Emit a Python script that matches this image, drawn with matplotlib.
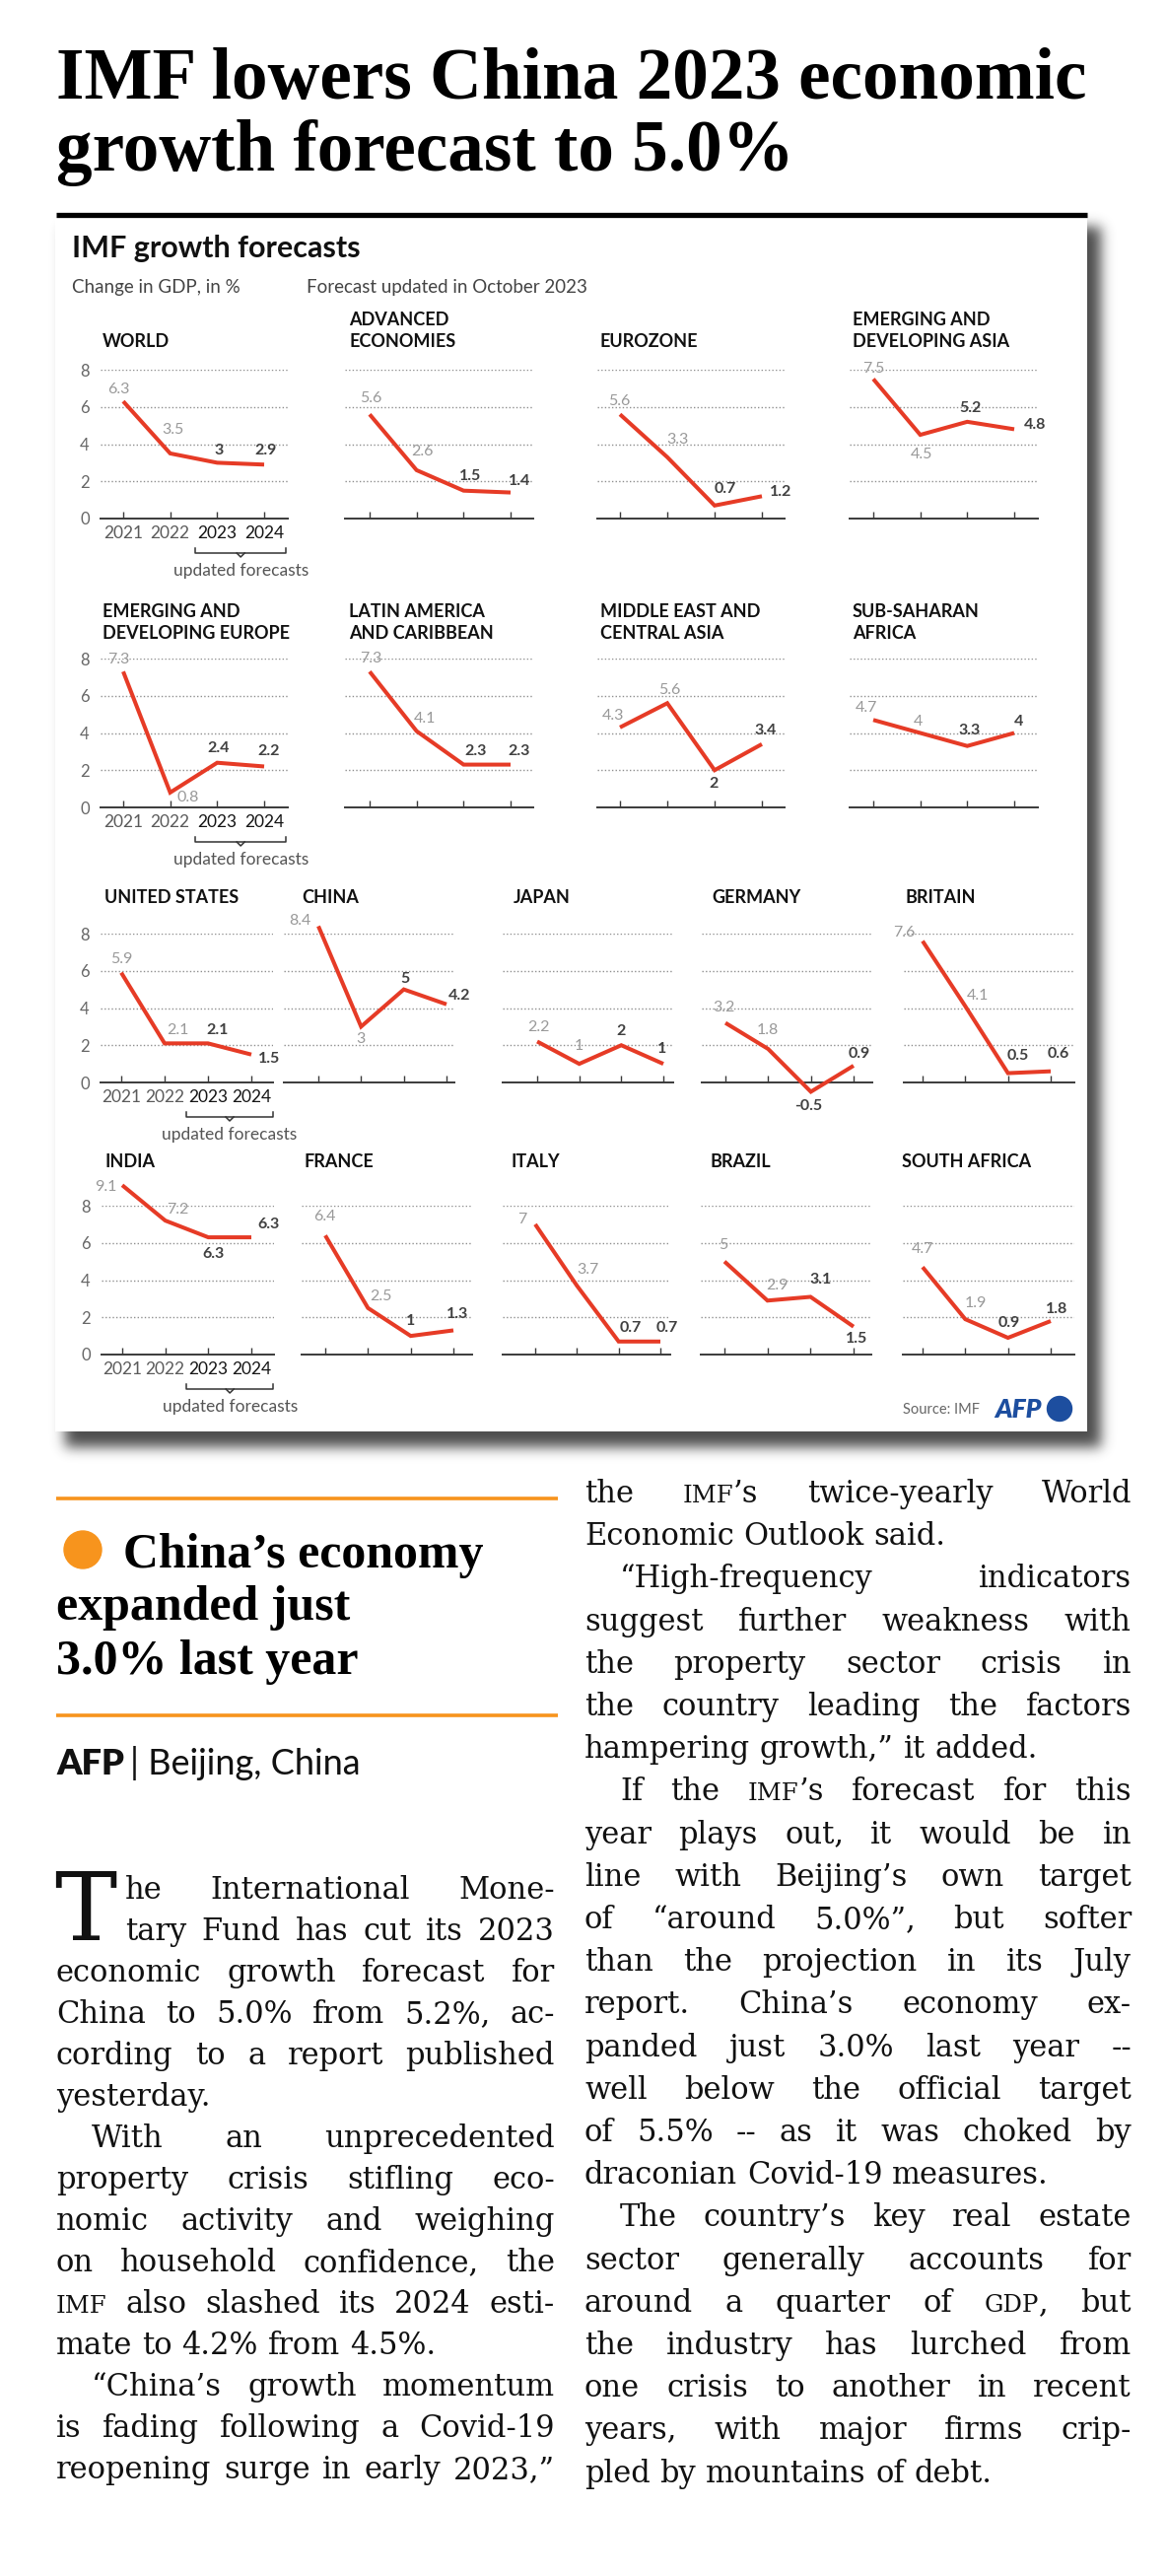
import re
import numpy as np
import matplotlib
matplotlib.use("Agg")
import matplotlib.pyplot as plt
from matplotlib.patches import Rectangle, Circle

plt.rcParams["font.family"] = ["Lato", "DejaVu Sans"]

# IMF GDP growth in %, for 2021, 2022, 2023 (forecast), 2024 (forecast)
years = ["2021", "2022", "2023", "2024"]
titles = ["WORLD", "ADVANCED\nECONOMIES", "EUROZONE", "EMERGING AND\nDEVELOPING ASIA",
          "EMERGING AND\nDEVELOPING EUROPE", "LATIN AMERICA\nAND CARIBBEAN",
          "MIDDLE EAST AND\nCENTRAL ASIA", "SUB-SAHARAN\nAFRICA",
          "UNITED STATES", "CHINA", "JAPAN", "GERMANY", "BRITAIN",
          "INDIA", "FRANCE", "ITALY", "BRAZIL", "SOUTH AFRICA"]
world = [6.3, 3.5, 3.0, 2.9]
advanced = [5.6, 2.6, 1.5, 1.4]
eurozone = [5.6, 3.3, 0.7, 1.2]
em_asia = [7.5, 4.5, 5.2, 4.8]
em_europe = [7.3, 0.8, 2.4, 2.2]
latam = [7.3, 4.1, 2.3, 2.3]
mideast = [4.3, 5.6, 2.0, 3.4]
subsahara = [4.7, 4.0, 3.3, 4.0]
usa = [5.9, 2.1, 2.1, 1.5]
china = [8.4, 3.0, 5.0, 4.2]
japan = [2.2, 1.0, 2.0, 1.0]
germany = [3.2, 1.8, -0.5, 0.9]
britain = [7.6, 4.1, 0.5, 0.6]
india = [9.1, 7.2, 6.3, 6.3]
france = [6.4, 2.5, 1.0, 1.3]
italy = [7.0, 3.7, 0.7, 0.7]
brazil = [5.0, 2.9, 3.1, 1.5]
south_africa = [4.7, 1.9, 0.9, 1.8]
series = [world, advanced, eurozone, em_asia, em_europe, latam, mideast, subsahara,
          usa, china, japan, germany, britain, india, france, italy, brazil, south_africa]
yticks = [0, 2, 4, 6, 8]

# article text
headline = ["IMF lowers China 2023 economic", "growth forecast to 5.0%"]
side_head = ["China’s economy", "expanded just", "3.0% last year"]
left_paras = [
    ["he International Mone-", "tary Fund has cut its 2023", "economic growth forecast for",
     "China to 5.0% from 5.2%, ac-", "cording to a report published", "yesterday."],
    ["With an unprecedented", "property crisis stifling eco-", "nomic activity and weighing",
     "on household confidence, the", "{IMF} also slashed its 2024 esti-", "mate to 4.2% from 4.5%."],
    ["“China’s growth momentum", "is fading following a Covid-19", "reopening surge in early 2023,”"],
]
right_paras = [
    ["the {IMF}’s twice-yearly World", "Economic Outlook said."],
    ["“High-frequency indicators", "suggest further weakness with", "the property sector crisis in",
     "the country leading the factors", "hampering growth,” it added."],
    ["If the {IMF}’s forecast for this", "year plays out, it would be in", "line with Beijing’s own target",
     "of “around 5.0%”, but softer", "than the projection in its July", "report. China’s economy ex-",
     "panded just 3.0% last year --", "well below the official target", "of 5.5% -- as it was choked by",
     "draconian Covid-19 measures."],
    ["The country’s key real estate", "sector generally accounts for", "around a quarter of {GDP}, but",
     "the industry has lurched from", "one crisis to another in recent", "years, with major firms crip-",
     "pled by mountains of debt."],
]

# layout, all in pixels of the 1184 x 2613 page
W, H = 1184, 2613
RED = "#e63b26"
ORANGE = "#f7941d"
BLUE = "#1d4e9f"
SERIF = ["Liberation Serif", "DejaVu Serif"]
BODY = ["DejaVu Serif"]

# axis start, axis end, first tick, last tick
geom = [(102, 292, 125, 268), (350, 541, 375, 518), (606, 796, 629, 773), (862, 1053, 886, 1029)] * 2 + \
       [(102, 277, 123, 255), (288, 461, 323, 453), (510, 683, 545, 673), (712, 885, 736, 866), (917, 1090, 936, 1066),
        (103, 278, 124, 255), (306, 479, 330, 460), (510, 680, 543, 670), (711, 884, 735, 866), (916, 1090, 936, 1066)]
zero_y = [526] * 4 + [819] * 4 + [1098] * 5 + [1374] * 5
title_x = [104, 354, 609, 865, 104, 354, 609, 865, 106, 306, 521, 722, 919, 106, 308, 519, 720, 915]
title_y = [347] * 4 + [642] * 4 + [910] * 5 + [1179] * 5
first_col = [0, 4, 8, 13]
label_off = [
    [(-5, 12), (3, 24), (2, 12), (2, 14)],
    [(1, 16), (6, 19), (7, 15), (9, 12)],
    [(-1, 13), (10, 18), (11, 17), (19, 4)],
    [(0, 10), (1, -20), (3, 14), (21, 4)],
    [(-5, 12), (18, -5), (1, 15), (5, 15)],
    [(1, 13), (8, 13), (12, 14), (9, 14)],
    [(-7, 12), (2, 13), (-1, -14), (4, 14)],
    [(-7, 12), (-2, 11), (2, 16), (5, 11)],
    [(0, 14), (13, 13), (10, 13), (18, -4)],
    [(-19, 5), (0, -13), (1, 11), (13, 9)],
    [(1, 14), (0, 18), (0, 14), (-1, 15)],
    [(-2, 16), (-1, 19), (-2, -15), (6, 12)],
    [(-19, 9), (13, 11), (10, 18), (8, 18)],
    [(-17, -2), (13, 11), (5, -17), (17, 13)],
    [(-1, 19), (13, 12), (0, 15), (4, 16)],
    [(-13, 5), (11, 16), (12, 14), (7, 14)],
    [(-1, 17), (10, 15), (10, 17), (3, -12)],
    [(0, 18), (11, 16), (1, 15), (6, 12)],
]
PANEL_H = 151

fig = plt.figure(figsize=(W / 100, H / 100), dpi=100)
fig.patch.set_facecolor("white")
bg = fig.add_axes([0, 0, 1, 1])
bg.set_xlim(0, W)
bg.set_ylim(H, 0)
bg.axis("off")
renderer = fig.canvas.get_renderer()

# ---- graphic box with drop shadow
px0, px1, py0, py1 = 56, 1103, 218, 1452
sx0, sx1, sy0, sy1 = 30, 1170, 195, 1520
yy, xx = np.mgrid[sy0:sy1, sx0:sx1]
mask = ((xx >= px0 + 10) & (xx <= px1 + 13) & (yy >= py0 + 12) & (yy <= py1 + 15)).astype(float)
k = np.exp(-0.5 * (np.arange(-20, 21) / 6.5) ** 2)
k /= k.sum()
mask = np.apply_along_axis(lambda m: np.convolve(m, k, mode="same"), 0, mask)
mask = np.apply_along_axis(lambda m: np.convolve(m, k, mode="same"), 1, mask)
rgba = np.zeros(mask.shape + (4,))
rgba[..., :3] = 0.18
rgba[..., 3] = mask * 0.85
bg.imshow(rgba, extent=(sx0, sx1, sy1, sy0), aspect="auto", zorder=1, interpolation="bilinear")
bg.add_patch(Rectangle((px0, py0), px1 - px0, py1 - py0, fc="white", ec="none", zorder=2))
bg.plot([57, px1], [py0, py0], color="black", lw=3.8, solid_capstyle="butt", zorder=3)

bg.text(73, 252, "IMF growth forecasts", fontsize=22, fontweight="bold", color="#111111",
        va="center", ha="left", zorder=4)
bg.text(73, 292, "Change in GDP, in %", fontsize=13.5, color="#444444",
        va="center", ha="left", zorder=4)
bg.text(311, 292, "Forecast updated in October 2023", fontsize=13.5, color="#444444",
        va="center", ha="left", zorder=4)

# ---- small multiples
for i, vals in enumerate(series):
    a0, a1, t0, t1 = geom[i]
    sp = (t1 - t0) / 3
    y0 = zero_y[i]
    ax = fig.add_axes([a0 / W, (H - y0) / H, (a1 - a0) / W, PANEL_H / H])
    ax.patch.set_alpha(0)
    ax.set_xlim((a0 - t0) / sp, 3 + (a1 - t1) / sp)
    ax.set_ylim(0, 8)
    for s in ["top", "right", "left"]:
        ax.spines[s].set_visible(False)
    ax.spines["bottom"].set_color("#3a3a3a")
    ax.spines["bottom"].set_linewidth(1.4)
    for g in yticks[1:]:
        ax.axhline(g, color="#8f8f8f", lw=1.0, ls=(0, (1, 1.6)), zorder=1)
    ax.plot(range(4), vals, color=RED, lw=2.9, clip_on=False, zorder=3,
            solid_capstyle="butt", solid_joinstyle="miter")
    ax.set_xticks(range(4))
    ax.tick_params(axis="x", direction="in", length=5, width=1, color="#3a3a3a", pad=5)
    if i in first_col:
        ax.set_xticklabels(years, fontsize=12.5)
        for j, tl in enumerate(ax.get_xticklabels()):
            tl.set_color("#5a5a5a" if j < 2 else "#151515")
        ax.set_yticks(yticks)
        ax.set_yticklabels([str(v) for v in yticks], fontsize=12, color="#666666")
        ax.tick_params(axis="y", length=0, pad=8)
    else:
        ax.set_xticklabels([])
        ax.set_yticks([])
    for j, v in enumerate(vals):
        dx, dy = label_off[i][j]
        ax.annotate(f"{v:g}", (j, v), xytext=(dx, dy), textcoords="offset pixels",
                    ha="center", va="center", fontsize=11.5, zorder=4,
                    color="#999999" if j < 2 else "#404040",
                    fontweight="normal" if j < 2 else "bold", annotation_clip=False)
    lines = titles[i].split("\n")
    for kk, ln in enumerate(reversed(lines)):
        bg.text(title_x[i], title_y[i] - 22 * kk, ln, fontsize=13, fontweight="bold",
                color="#111111", va="center", ha="left", zorder=4)
    if i in first_col:
        tk2 = t0 + 2 * sp
        lft, rgt = tk2 - 22, t1 + 22
        by = y0 + 35
        cx = (lft + rgt) / 2
        bg.plot([lft, lft, rgt, rgt], [by - 5, by, by, by - 5], color="#333333", lw=1.1, zorder=4)
        bg.plot([cx - 4, cx, cx + 4], [by, by + 4, by], color="#333333", lw=1.1, zorder=4)
        bg.text(cx, y0 + 53, "updated forecasts", fontsize=12.5, color="#555555",
                ha="center", va="center", zorder=4)

bg.text(916, 1430, "Source: IMF", fontsize=10.5, color="#666666",
        ha="left", va="center", zorder=4)
bg.text(1009, 1430, "AFP", fontsize=19, fontweight="heavy", style="italic", color=BLUE,
        ha="left", va="center", zorder=4)
bg.add_patch(Circle((1075, 1429), 12.5, color=BLUE, zorder=4))


def width_of(t):
    return t.get_window_extent(renderer).width


# ---- headline
h1 = bg.text(57, 100, headline[0], fontsize=50, fontweight="bold", family=SERIF, va="baseline", ha="left")
size = 50 * 1047 / width_of(h1)
h1.set_fontsize(size)
bg.text(57, 173, headline[1], fontsize=size, fontweight="bold", family=SERIF, va="baseline", ha="left")

# ---- sidebar headline
bg.plot([57, 566], [1520, 1520], color=ORANGE, lw=2.6, solid_capstyle="butt")
bg.plot([57, 566], [1740, 1740], color=ORANGE, lw=2.6, solid_capstyle="butt")
bg.add_patch(Circle((84, 1572), 19, color=ORANGE))
s2 = bg.text(57, 1643, side_head[1], fontsize=30, fontweight="bold", family=SERIF, va="baseline", ha="left")
ssize = 30 * 298 / width_of(s2)
s2.set_fontsize(ssize)
bg.text(125, 1590, side_head[0], fontsize=ssize, fontweight="bold", family=SERIF, va="baseline", ha="left")
bg.text(57, 1698, side_head[2], fontsize=ssize, fontweight="bold", family=SERIF, va="baseline", ha="left")

t_afp = bg.text(57, 1800, "AFP", fontsize=24, fontweight="heavy", color="#111111", va="baseline", ha="left")
t_loc = bg.text(0, 1800, "| Beijing, China", fontsize=24, color="#111111", va="baseline", ha="left")
scale = 310 / (width_of(t_afp) + 6 + width_of(t_loc))
t_afp.set_fontsize(24 * scale)
t_loc.set_fontsize(24 * scale)
t_loc.set_x(57 + width_of(t_afp) + 6)

# ---- body text, justified word by word
probe = bg.text(0, 0, "", family=BODY)


def natural(s, pt):
    probe.set_text(s.replace("{", "").replace("}", ""))
    probe.set_fontsize(pt)
    return width_of(probe)


def set_line(line, x0, x1, y, pt, justify):
    words = line.split(" ")
    placed = []
    for w in words:
        pieces = []
        for p in re.split(r"(\{[^}]*\})", w):
            if not p:
                continue
            sc = p.startswith("{")
            t = bg.text(0, y, p.strip("{}"), fontsize=pt * (0.8 if sc else 1), family=BODY,
                        color="#111111", va="baseline", ha="left")
            pieces.append((t, width_of(t)))
        placed.append(pieces)
    widths = [sum(pw for _, pw in ps) for ps in placed]
    gap = natural("a a", pt) - natural("aa", pt)
    if justify and len(words) > 1:
        gap = (x1 - x0 - sum(widths)) / (len(words) - 1)
    x = x0
    for ps in placed:
        for t, pw in ps:
            t.set_x(x)
            x += pw
        x += gap


DROP_IND, PARA_IND = 70, 36


def column_lines(paras, dropcap, continued_first, continues_last):
    out = []
    for pi, para in enumerate(paras):
        for li, line in enumerate(para):
            ind = 0
            if dropcap and pi == 0 and li < 2:
                ind = DROP_IND
            elif li == 0 and not (pi == 0 and continued_first):
                ind = PARA_IND
            last = li == len(para) - 1 and not (continues_last and pi == len(paras) - 1)
            out.append((line, ind, not last))
    return out


cols = [
    (column_lines(left_paras, True, False, True), 57, 563, 1926, 42.0),
    (column_lines(right_paras, False, True, False), 593, 1148, 1524, 43.2),
]


def tight_width(ln, pt):
    words = ln.split(" ")
    space = natural("a a", pt) - natural("aa", pt)
    return sum(natural(w, pt) for w in words) + 0.45 * space * (len(words) - 1)


pt = 19.0
ratio = min((x1 - x0 - ind) / tight_width(ln, pt) for lines, x0, x1, _, _ in cols
            for ln, ind, just in lines if just)
pt = min(22.0, pt * ratio)
for lines, x0, x1, yb, lead in cols:
    for n, (ln, ind, just) in enumerate(lines):
        set_line(ln, x0 + ind, x1, yb + n * lead, pt, just)
probe.remove()

bg.text(55, 1926 + 42.0, "T", fontsize=pt * 3.1, family=BODY, color="#111111", va="baseline", ha="left")

fig.savefig("out.png", dpi=100)
